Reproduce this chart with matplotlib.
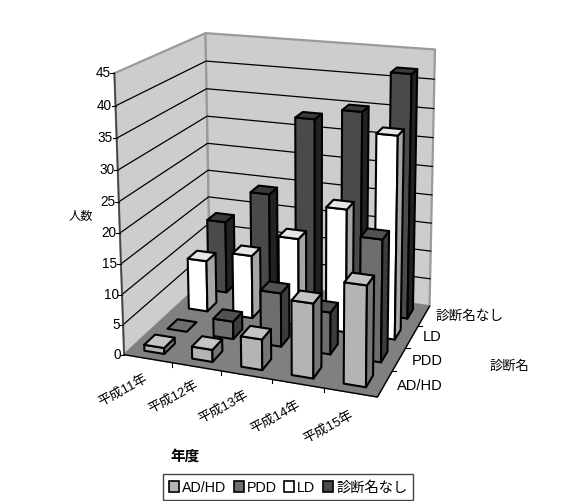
import numpy as np
import matplotlib
matplotlib.use("Agg")
import matplotlib.pyplot as plt
from matplotlib.patches import Patch

plt.rcParams['font.family'] = ['Liberation Sans', 'Noto Sans CJK JP', 'DejaVu Sans']

years = ['平成11年', '平成12年', '平成13年', '平成14年', '平成15年']
diagnoses = ['AD/HD', 'PDD', 'LD', '診断名なし']
adhd = [1, 2, 5, 12, 16]
pdd = [0, 3, 9, 7, 20]
ld = [9, 11, 15, 21, 34]
none_diag = [13, 19, 33, 35, 42]
series = [adhd, pdd, ld, none_diag]
value_ticks = [0, 5, 10, 15, 20, 25, 30, 35, 40, 45]

# (front, top, side) shade of each series
shades = [('#b4b4b4', '#c4c4c4', '#767676'),
          ('#6e6e6e', '#525252', '#3c3c3c'),
          ('#ffffff', '#e6e6e6', '#a6a6a6'),
          ('#4a4a4a', '#3a3a3a', '#222222')]


def fit_camera(box, pixels):
    rows = []
    for (x, y, z), (u, v) in zip(box, pixels):
        p = [x, y, z, 1]
        rows.append(p + [0, 0, 0, 0] + [-u * c for c in p])
        rows.append([0, 0, 0, 0] + p + [-v * c for c in p])
    return np.linalg.svd(np.array(rows, float))[2][-1].reshape(3, 4)


# camera from the visible corners of the chart box (x, depth, height)
camera = fit_camera(
    [(0, 0, 0), (1, 0, 0), (1, 1, 0), (0, 1, 0), (0, 0, 1), (0, 1, 1), (1, 1, 1)],
    [(123, 353), (378, 400), (429, 305), (211, 279), (115, 75), (205, 33), (435, 51)])


def project(x, d, value):
    # x and d in category slots, value in people
    q = camera @ np.array([x / len(years), d / len(diagnoses), value / 45, 1.0])
    return q[0] / q[2], q[1] / q[2]


def face(ax, pts, color, lw=1.5, edge='black', z=2):
    xy = [project(*p) for p in pts]
    ax.fill(*zip(*xy), facecolor=color, edgecolor=edge, lw=lw, joinstyle='round', zorder=z)


def draw_bar(ax, i, j, value, colors, width=0.42, depth=0.46):
    x0 = i + (1 - width) / 2
    x1 = x0 + width
    d0 = j + (1 - depth) / 2
    d1 = d0 + depth
    front, top, side = colors
    if value > 0:
        face(ax, [(x0, d0, 0), (x1, d0, 0), (x1, d0, value), (x0, d0, value)], front)
        face(ax, [(x1, d0, 0), (x1, d1, 0), (x1, d1, value), (x1, d0, value)], side)
    else:
        top = front
    face(ax, [(x0, d0, value), (x1, d0, value), (x1, d1, value), (x0, d1, value)], top)


fig = plt.figure(figsize=(5.68, 5.02), dpi=100)
ax = fig.add_axes([0, 0, 1, 1])
ax.set_xlim(0, 568)
ax.set_ylim(502, 0)
ax.axis('off')

nx = len(years)
nd = len(diagnoses)
wall_edge = '#9a9a9a'

# walls and floor
face(ax, [(0, 0, 0), (0, nd, 0), (0, nd, 45), (0, 0, 45)], '#cdcdcd', 1.6, wall_edge, 1)
face(ax, [(0, nd, 0), (nx, nd, 0), (nx, nd, 45), (0, nd, 45)], '#cdcdcd', 1.6, wall_edge, 1)
face(ax, [(0, 0, 0), (nx, 0, 0), (nx, nd, 0), (0, nd, 0)], '#808080', 1.0, '#808080', 1)

# gridlines on the walls
for v in value_ticks[1:-1]:
    pts = [project(0, 0, v), project(0, nd, v), project(nx, nd, v)]
    ax.plot(*zip(*pts), color='black', lw=0.9, zorder=1.5)

# value axis with its ticks and labels
ax.plot(*zip(project(0, 0, 0), project(0, 0, 45)), color='#444444', lw=1.2, zorder=1.5)
ax.plot(*zip(project(0, 0, 0), project(nx, 0, 0), project(nx, nd, 0)),
        color='black', lw=1.0, zorder=1.5)
for v in value_ticks:
    px, py = project(0, 0, v)
    ax.plot([px - 4, px], [py, py], color='black', lw=0.8)
    ax.text(px - 3.5, py - 1, str(v), ha='right', va='center', fontsize=9.8)

# back rows first so nearer bars cover them
for j in range(nd - 1, -1, -1):
    for i in range(nx):
        draw_bar(ax, i, j, series[j][i], shades[j])

# category ticks along the front and right floor edges
for i in range(1, nx):
    px, py = project(i, 0, 0)
    ax.plot([px, px], [py, py + 4], color='black', lw=0.8)
for j in range(1, nd):
    px, py = project(nx, j, 0)
    ax.plot([px, px + 4], [py, py], color='black', lw=0.8)

year_pos = [(123, 390), (173, 397), (223, 407), (275, 417), (328, 427)]
for label, (px, py) in zip(years, year_pos):
    ax.text(px, py, label, rotation=28, rotation_mode='anchor',
            ha='center', va='center', fontsize=9.5)

diag_pos = [(443, 386, 'right', 10.5), (443, 361, 'right', 10.5),
            (441, 337, 'right', 10.5), (435, 316, 'left', 9.8)]
for label, (px, py, align, size) in zip(diagnoses, diag_pos):
    ax.text(px, py, label, ha=align, va='center', fontsize=size)

ax.text(81, 217, '人数', ha='center', va='center', fontsize=8.8)
ax.text(185, 457, '年度', ha='center', va='center', fontsize=10.5, fontweight='bold')
ax.text(509, 367, '診断名', ha='center', va='center', fontsize=9.5)

handles = [Patch(facecolor=s[0], edgecolor='black', lw=1.2) for s in shades]
leg = ax.legend(handles, diagnoses, ncol=4, loc='center',
                bbox_to_anchor=(288, 488), bbox_transform=ax.transData,
                fontsize=10.3, fancybox=False, framealpha=1, edgecolor='#444444',
                handlelength=0.7, handleheight=0.8, handletextpad=0.2,
                columnspacing=0.55, borderpad=0.4)
leg.get_frame().set_linewidth(1.0)

fig.savefig('out.png', dpi=100)
